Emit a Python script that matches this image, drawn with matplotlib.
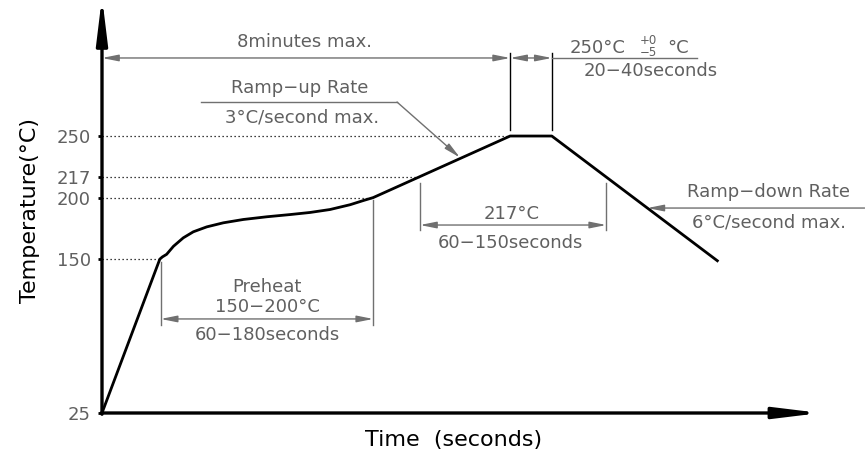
import numpy as np
import matplotlib
matplotlib.use("Agg")
import matplotlib.pyplot as plt

# reflow profile (time in s, temperature in degC)
profile_time = [0, 68, 71, 76, 84, 95.6, 107.4, 123.2, 142.7, 166.2, 193.8, 221.2,
                244.7, 268.2, 291.8, 307.4, 319, 480, 529, 725]
profile_temp = [25, 150, 151.8, 153.9, 160.4, 167.3, 172.2, 176.2, 179.5, 182.2, 184.4, 186.2,
                187.9, 190.3, 194.2, 197.6, 200, 250, 250, 148]

tick_temps = [25, 150, 200, 217, 250]
tick_labels = ["25", "150", "200", "217", "250"]
# where each dotted level line stops
level_end_time = [68, 319, 374, 480]
level_temps = [150, 200, 217, 250]

preheat_start, preheat_end = 69, 319
tal_start, tal_end = 374, 593
peak_start, peak_end = 480, 529

text_gray = "#606060"
line_gray = "#707070"

fig = plt.figure(figsize=(8.65, 4.66), dpi=100)
ax = fig.add_axes([102 / 865, 53 / 466, 703 / 865, 405 / 466])
ax.set_xlim(0, 826.8)
ax.set_ylim(25, 354)
for s in ax.spines.values():
    s.set_visible(False)

ax.plot(profile_time, profile_temp, color="black", lw=2.0, solid_capstyle="butt",
        solid_joinstyle="round", clip_on=False, zorder=5)

# axes with arrow heads
axis_arrow = dict(arrowstyle="-|>,head_length=1.8,head_width=0.22", mutation_scale=15,
                  lw=2.4, color="black", shrinkA=0, shrinkB=0)
ax.annotate("", xy=(845, 25), xytext=(-1, 25), arrowprops=axis_arrow, annotation_clip=False)
ax.annotate("", xy=(0, 363), xytext=(0, 24), arrowprops=axis_arrow, annotation_clip=False)

ax.set_xticks([])
ax.set_yticks(tick_temps)
ax.set_yticklabels(tick_labels)
ax.tick_params(axis="y", length=3, width=2, color="black", labelcolor=text_gray,
               labelsize=13, pad=5)

for t_end, temp in zip(level_end_time, level_temps):
    ax.plot([0, t_end], [temp, temp], color="black", lw=0.9, ls=(0, (1, 2.2)))

ax.set_ylabel("Temperature(°C)", fontsize=16, labelpad=12)
ax.set_xlabel("Time  (seconds)", fontsize=16, labelpad=12)

dim = dict(arrowstyle="<|-|>,head_length=0.7,head_width=0.14", mutation_scale=14,
           lw=1.0, color=line_gray, shrinkA=0, shrinkB=0)
one = dict(arrowstyle="-|>,head_length=0.7,head_width=0.14", mutation_scale=14,
           lw=1.0, color=line_gray, shrinkA=0, shrinkB=0)
fs = 13

# 8 minutes max
ax.annotate("", xy=(0, 313.4), xytext=(peak_start, 313.4), arrowprops=dim)
ax.text(238, 319, "8minutes max.", ha="center", va="bottom", fontsize=fs, color=text_gray)

# peak window
ax.plot([peak_start, peak_start], [255, 317.5], color="black", lw=1.0)
ax.plot([peak_end, peak_end], [255, 317.5], color="black", lw=1.0)
ax.annotate("", xy=(peak_start, 313.4), xytext=(peak_end, 313.4), arrowprops=dim)
ax.plot([peak_end, 700], [313.4, 313.4], color=line_gray, lw=1.0)
ax.text(583, 321.5, "250°C", ha="center", va="center", fontsize=fs, color=text_gray)
ax.text(643, 327.5, "+0", ha="center", va="center", fontsize=8.5, color=text_gray)
ax.text(643, 317.5, "−5", ha="center", va="center", fontsize=8.5, color=text_gray)
ax.text(677, 321.5, "°C", ha="center", va="center", fontsize=fs, color=text_gray)
ax.text(645, 302.8, "20−40seconds", ha="center", va="center", fontsize=fs, color=text_gray)

# ramp-up
ax.plot([116, 347], [277.6, 277.6], color=line_gray, lw=1.0)
ax.annotate("", xy=(421, 232.5), xytext=(347, 277.6), arrowprops=one)
ax.text(233, 289, "Ramp−up Rate", ha="center", va="center", fontsize=fs, color=text_gray)
ax.text(235, 265, "3°C/second max.", ha="center", va="center", fontsize=fs, color=text_gray)

# time above 217
ax.plot([tal_start, tal_start], [174, 212], color=line_gray, lw=1.0)
ax.plot([tal_end, tal_end], [174, 212], color=line_gray, lw=1.0)
ax.annotate("", xy=(tal_start, 177.7), xytext=(tal_end, 177.7), arrowprops=dim)
ax.text(482, 186.6, "217°C", ha="center", va="center", fontsize=fs, color=text_gray)
ax.text(480, 163, "60−150seconds", ha="center", va="center", fontsize=fs, color=text_gray)

# ramp-down
ax.annotate("", xy=(641.4, 191.5), xytext=(897, 191.5), arrowprops=one, annotation_clip=False)
ax.text(784, 204.5, "Ramp−down Rate", ha="center", va="center", fontsize=fs, color=text_gray,
        clip_on=False)
ax.text(785, 180, "6°C/second max.", ha="center", va="center", fontsize=fs, color=text_gray,
        clip_on=False)

# preheat
ax.plot([preheat_start, preheat_start], [96.5, 148], color=line_gray, lw=1.0)
ax.plot([preheat_end, preheat_end], [96.5, 198], color=line_gray, lw=1.0)
ax.annotate("", xy=(preheat_start, 101.4), xytext=(preheat_end, 101.4), arrowprops=dim)
ax.text(194, 127, "Preheat", ha="center", va="center", fontsize=fs, color=text_gray)
ax.text(194, 111, "150−200°C", ha="center", va="center", fontsize=fs, color=text_gray)
ax.text(194, 88.4, "60−180seconds", ha="center", va="center", fontsize=fs, color=text_gray)

fig.savefig("out.png", dpi=100)
